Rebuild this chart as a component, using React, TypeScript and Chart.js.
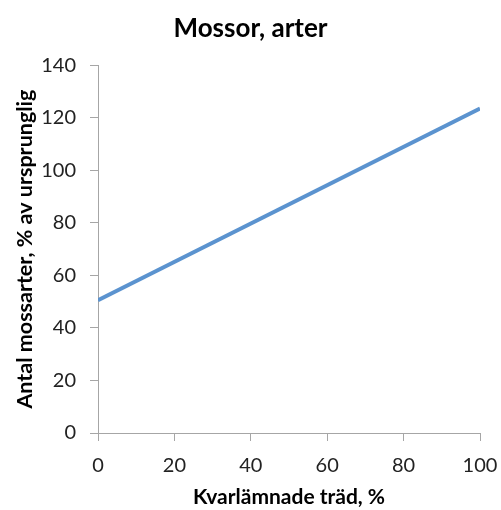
import React, { useEffect, useRef } from "react";
import { Chart, registerables } from "chart.js";

Chart.register(...registerables);

// Retained trees (%) and the resulting moss species count (% of original)
const retainedTrees = [0, 100];
const mossSpecies = [50.5, 123.5];

const xTicks = [0, 20, 40, 60, 80, 100];
const yTicks = [0, 20, 40, 60, 80, 100, 120, 140];

const titleText = "Mossor, arter";
const xTitle = "Kvarlämnade träd, %";
const yTitle = "Antal mossarter, % av ursprunglig";

const FONT = "Lato, 'Open Sans', sans-serif";
const AXIS_GREY = "#a6a6a6";

export default function App() {
  const canvasRef = useRef<HTMLCanvasElement | null>(null);

  useEffect(() => {
    if (!canvasRef.current) return;
    const chart = new Chart(canvasRef.current, {
      type: "line",
      data: {
        datasets: [
          {
            data: retainedTrees.map((x, i) => ({ x, y: mossSpecies[i] })),
            borderColor: "#5b93cf",
            borderWidth: 4,
            pointRadius: 0,
            fill: false,
            tension: 0,
          },
        ],
      },
      options: {
        animation: false,
        responsive: true,
        maintainAspectRatio: false,
        layout: { padding: { left: 0, right: 0, top: 0, bottom: 0 } },
        plugins: {
          legend: { display: false },
          tooltip: { enabled: false },
          title: {
            display: true,
            text: titleText,
            color: "#000",
            font: { family: FONT, size: 26, weight: "bold" },
            padding: { top: 13, bottom: 21 },
          },
        },
        scales: {
          x: {
            type: "linear",
            min: 0,
            max: 100,
            afterBuildTicks: (axis: any) => {
              axis.ticks = xTicks.map((v) => ({ value: v }));
            },
            afterFit: (axis: any) => {
              axis.height = 77;
              axis.paddingRight = 21;
            },
            grid: {
              drawOnChartArea: false,
              drawTicks: true,
              tickLength: 8,
              color: AXIS_GREY,
            },
            border: { color: AXIS_GREY, width: 1 },
            ticks: {
              color: "#222",
              font: { family: FONT, size: 20 },
              padding: 13,
              maxRotation: 0,
            },
            title: {
              display: true,
              text: xTitle,
              color: "#000",
              font: { family: FONT, size: 21, weight: "bold" },
              padding: { top: 0, bottom: 0 },
            },
          },
          y: {
            type: "linear",
            min: 0,
            max: 140,
            afterBuildTicks: (axis: any) => {
              axis.ticks = yTicks.map((v) => ({ value: v }));
            },
            afterFit: (axis: any) => {
              axis.width = 98;
            },
            grid: {
              drawOnChartArea: false,
              drawTicks: true,
              tickLength: 8,
              color: AXIS_GREY,
            },
            border: { color: AXIS_GREY, width: 1 },
            ticks: {
              color: "#222",
              font: { family: FONT, size: 20 },
              padding: 14,
            },
            title: {
              display: true,
              text: yTitle,
              color: "#000",
              font: { family: FONT, size: 21.5, weight: "bold" },
              padding: { top: 12, bottom: 0 },
            },
          },
        },
      },
    });
    return () => chart.destroy();
  }, []);

  // The chart spans the full 501x510 view, so it sits outside the body margin.
  return (
    <div style={{ position: "absolute", left: 0, top: 0, width: 501, height: 510 }}>
      <canvas ref={canvasRef} />
    </div>
  );
}
